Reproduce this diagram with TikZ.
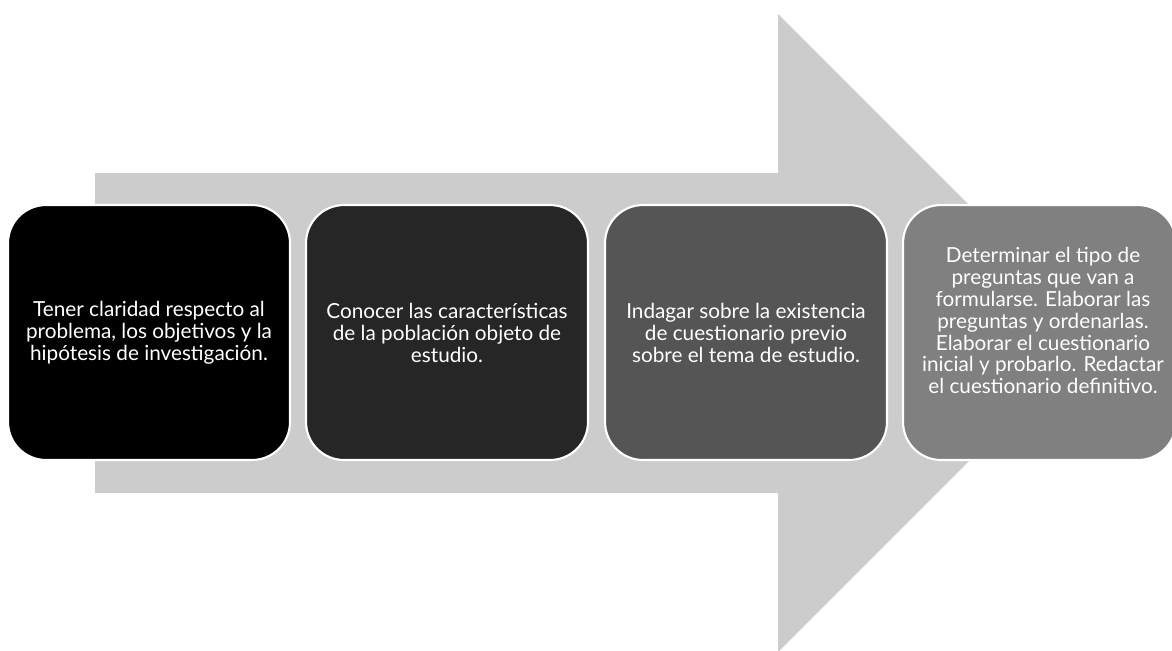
\documentclass[tikz,border=0pt]{standalone}
\usepackage{fontspec}
\setmainfont{Lato}
\definecolor{arrowgray}{HTML}{CCCCCC}
\definecolor{stepone}{HTML}{000000}
\definecolor{steptwo}{HTML}{262626}
\definecolor{stepthree}{HTML}{555555}
\definecolor{stepfour}{HTML}{808080}
\begin{document}
\begin{tikzpicture}[x=0.02cm, y=-0.02cm]
	\tikzset{
		step box/.style={rectangle, rounded corners=0.76cm, draw=white, line width=1.2pt, minimum width=5.64cm, minimum height=5.1cm},
		step text/.style={text=white, align=center, font=\fontsize{11.8}{12.5}\selectfont},
		big arrow/.style={fill=arrowgray, draw=none}
	}
	\clip (0,0) rectangle (1172,650);
	\useasboundingbox (0,0) rectangle (1172,650);
	% Background arrow
	\fill[big arrow] (95,173) -- (778,173) -- (778,14) -- (1097,333) -- (778,652) -- (778,493) -- (95,493) -- cycle;
	
	% Steps
	\node[step box, fill=stepone] (s1) at (149,332.5) {};
	\node[step box, fill=steptwo] (s2) at (447,332.5) {};
	\node[step box, fill=stepthree] (s3) at (746,332.5) {};
	\node[step box, fill=stepfour, minimum width=5.46cm] (s4) at (1039.5,332.5) {};
	
	% Texts
	\node[step text] (t1) at (s1.center) {Tener claridad respecto al\\problema, los objetivos y la\\hipótesis de investigación.};
	\node[step text] (t2) at (s2.center) {Conocer las características\\de la población objeto de\\estudio.};
	\node[step text] (t3) at (s3.center) {Indagar sobre la existencia\\de cuestionario previo\\sobre el tema de estudio.};
	\node[step text] (t4) at ([xshift=0.07cm, yshift=0.24cm]s4.center) {Determinar el tipo de\\preguntas que van a\\formularse. Elaborar las\\preguntas y ordenarlas.\\Elaborar el cuestionario\\inicial y probarlo. Redactar\\el cuestionario definitivo.};
\end{tikzpicture}
\end{document}
